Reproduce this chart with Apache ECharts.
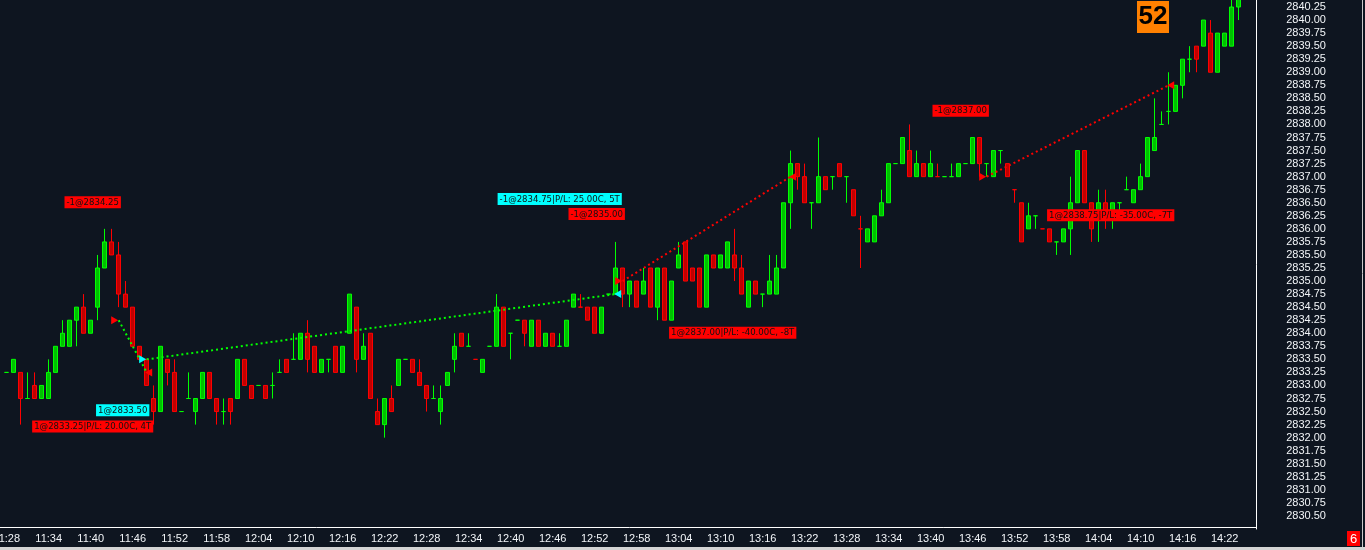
<!DOCTYPE html>
<html>
<head>
<meta charset="utf-8">
<script src="https://cdn.jsdelivr.net/npm/echarts@6/dist/echarts.min.js"></script>
<style>
  html, body { margin: 0; padding: 0; background: #0e1520; }
  #chart { width: 1365px; height: 550px; }
</style>
</head>
<body>
<div id="chart"></div>
<script>
// 1 分钟 K 线, 11:28 起
var startMinute = 11 * 60 + 28;
var slotCount = 179;
var times = [];
for (var m = 0; m < slotCount; m++) {
	var t = startMinute + m;
	times.push(Math.floor(t / 60) + ':' + String(t % 60).padStart(2, '0'));
}

// [open, close, low, high]
var candles = [
	[2833.25, 2833.25, 2833.25, 2833.25], [2833.25, 2833.50, 2833.25, 2833.50], [2833.25, 2832.75, 2832.25, 2833.25],
	[2832.75, 2832.75, 2832.75, 2833.25], [2833.00, 2832.75, 2832.75, 2833.25], [2832.75, 2833.00, 2832.75, 2833.00],
	[2832.75, 2833.25, 2832.75, 2833.50], [2833.25, 2833.75, 2833.25, 2833.75], [2833.75, 2834.00, 2833.75, 2834.25],
	[2833.75, 2834.25, 2833.75, 2834.25], [2834.25, 2834.50, 2833.75, 2834.50], [2834.50, 2834.00, 2834.00, 2834.75],
	[2834.00, 2834.25, 2834.00, 2834.25], [2834.50, 2835.25, 2834.25, 2835.50], [2835.25, 2835.75, 2835.25, 2836.00],
	[2835.75, 2835.50, 2835.50, 2836.00], [2835.50, 2834.75, 2834.50, 2835.75], [2834.75, 2834.50, 2834.50, 2835.00],
	[2834.50, 2833.75, 2833.75, 2834.50], [2833.75, 2833.50, 2833.50, 2833.75], [2833.50, 2833.00, 2833.00, 2833.50],
	[2832.75, 2832.50, 2832.25, 2833.00], [2832.50, 2833.75, 2832.50, 2833.75], [2833.50, 2833.25, 2833.00, 2833.50],
	[2833.25, 2832.50, 2832.50, 2833.50], [2832.50, 2832.50, 2832.50, 2832.50], [2832.75, 2832.75, 2832.75, 2833.25],
	[2832.50, 2832.75, 2832.25, 2832.75], [2832.75, 2833.25, 2832.75, 2833.25], [2833.25, 2832.75, 2832.75, 2833.25],
	[2832.75, 2832.50, 2832.25, 2832.75], [2832.50, 2832.50, 2832.25, 2832.75], [2832.75, 2832.50, 2832.25, 2832.75],
	[2832.75, 2833.50, 2832.75, 2833.50], [2833.50, 2833.00, 2833.00, 2833.50], [2833.00, 2832.75, 2832.75, 2833.00],
	[2833.00, 2833.00, 2833.00, 2833.00], [2833.00, 2832.75, 2832.75, 2833.00], [2833.00, 2833.00, 2832.75, 2833.25],
	[2833.25, 2833.25, 2833.25, 2833.50], [2833.50, 2833.25, 2833.25, 2833.50], [2833.50, 2833.50, 2833.50, 2834.00],
	[2833.50, 2834.00, 2833.50, 2834.00], [2834.00, 2833.50, 2833.25, 2834.25], [2833.75, 2833.25, 2833.25, 2833.75],
	[2833.25, 2833.50, 2833.25, 2833.50], [2833.50, 2833.50, 2833.25, 2833.50], [2833.75, 2833.25, 2833.25, 2833.75],
	[2833.25, 2833.75, 2833.25, 2833.75], [2834.00, 2834.75, 2834.00, 2834.75], [2834.50, 2833.50, 2833.25, 2834.50],
	[2833.50, 2833.75, 2833.50, 2834.00], [2834.00, 2832.75, 2832.75, 2834.00], [2832.50, 2832.25, 2832.25, 2832.75],
	[2832.25, 2832.75, 2832.00, 2832.75], [2832.75, 2832.50, 2832.50, 2833.00], [2833.00, 2833.50, 2833.00, 2833.50],
	[2833.50, 2833.50, 2833.50, 2833.50], [2833.50, 2833.25, 2833.25, 2833.50], [2833.25, 2833.00, 2833.00, 2833.50],
	[2833.00, 2832.75, 2832.50, 2833.00], [2832.75, 2832.75, 2832.75, 2833.00], [2832.50, 2832.75, 2832.25, 2833.00],
	[2833.00, 2833.25, 2833.00, 2833.25], [2833.50, 2833.75, 2833.25, 2834.00], [2834.00, 2833.75, 2833.75, 2834.00],
	[2833.75, 2833.75, 2833.75, 2834.00], [2833.50, 2833.50, 2833.50, 2833.50], [2833.25, 2833.50, 2833.25, 2833.50],
	[2833.75, 2833.75, 2833.75, 2833.75], [2833.75, 2834.50, 2833.75, 2834.75], [2834.50, 2833.75, 2833.75, 2834.50],
	[2834.00, 2834.00, 2833.50, 2834.00], [2834.25, 2834.25, 2834.25, 2834.25], [2834.25, 2834.00, 2833.75, 2834.25],
	[2833.75, 2834.25, 2833.75, 2834.25], [2834.25, 2833.75, 2833.75, 2834.25], [2833.75, 2834.00, 2833.75, 2834.00],
	[2834.00, 2833.75, 2833.75, 2834.00], [2833.75, 2833.75, 2833.75, 2834.00], [2833.75, 2834.25, 2833.75, 2834.25],
	[2834.50, 2834.75, 2834.50, 2834.75], [2834.50, 2834.50, 2834.50, 2834.75], [2834.50, 2834.25, 2834.25, 2834.50],
	[2834.50, 2834.00, 2834.00, 2834.50], [2834.00, 2834.50, 2834.00, 2834.50], [2834.75, 2834.75, 2834.75, 2834.75],
	[2834.75, 2835.25, 2834.75, 2835.75], [2835.25, 2834.75, 2834.50, 2835.25], [2834.75, 2835.00, 2834.50, 2835.00],
	[2835.00, 2834.50, 2834.50, 2835.00], [2834.75, 2835.00, 2834.75, 2835.25], [2835.25, 2834.50, 2834.50, 2835.25],
	[2834.50, 2835.25, 2834.25, 2835.25], [2835.25, 2834.25, 2834.25, 2835.25], [2834.25, 2835.00, 2834.25, 2835.00],
	[2835.25, 2835.50, 2835.25, 2835.75], [2835.75, 2835.00, 2835.00, 2835.75], [2835.25, 2835.00, 2835.00, 2835.25],
	[2835.25, 2834.50, 2834.50, 2835.25], [2834.50, 2835.50, 2834.50, 2835.50], [2835.50, 2835.25, 2835.25, 2835.50],
	[2835.25, 2835.50, 2835.25, 2835.50], [2835.25, 2835.75, 2835.25, 2835.75], [2835.50, 2835.25, 2835.00, 2836.00],
	[2835.25, 2834.75, 2834.75, 2835.50], [2834.50, 2835.00, 2834.50, 2835.00], [2835.00, 2834.75, 2834.75, 2835.00],
	[2834.75, 2834.75, 2834.50, 2834.75], [2834.75, 2835.00, 2834.75, 2835.50], [2834.75, 2835.25, 2834.75, 2835.50],
	[2835.25, 2836.50, 2835.25, 2836.50], [2836.50, 2837.25, 2836.00, 2837.50], [2837.25, 2837.00, 2836.75, 2837.25],
	[2837.00, 2836.50, 2836.50, 2837.25], [2836.50, 2836.50, 2836.00, 2836.50], [2836.50, 2837.00, 2836.50, 2837.75],
	[2837.00, 2836.75, 2836.75, 2837.00], [2837.00, 2837.00, 2836.75, 2837.00], [2837.25, 2837.00, 2837.00, 2837.25],
	[2837.00, 2837.00, 2836.50, 2837.00], [2836.75, 2836.25, 2836.25, 2836.75], [2836.00, 2836.00, 2835.25, 2836.25],
	[2835.75, 2836.00, 2835.75, 2836.00], [2835.75, 2836.25, 2835.75, 2836.25], [2836.25, 2836.50, 2836.25, 2836.75],
	[2836.50, 2837.25, 2836.50, 2837.25], [2837.25, 2837.25, 2837.25, 2837.25], [2837.25, 2837.75, 2837.25, 2837.75],
	[2837.50, 2837.00, 2837.00, 2838.00], [2837.00, 2837.25, 2837.00, 2837.50], [2837.25, 2837.00, 2837.00, 2837.25],
	[2837.00, 2837.25, 2837.00, 2837.50], [2837.00, 2837.00, 2837.00, 2837.25], [2837.00, 2837.00, 2837.00, 2837.00],
	[2837.00, 2837.00, 2837.00, 2837.25], [2837.00, 2837.25, 2837.00, 2837.25], [2837.25, 2837.25, 2837.25, 2837.25],
	[2837.25, 2837.75, 2837.25, 2837.75], [2837.75, 2837.25, 2837.00, 2837.75], [2837.25, 2837.25, 2837.00, 2837.25],
	[2837.00, 2837.50, 2837.00, 2837.50], [2837.50, 2837.50, 2837.25, 2837.50], [2837.25, 2837.00, 2837.00, 2837.25],
	[2836.75, 2836.75, 2836.50, 2836.75], [2836.50, 2835.75, 2835.75, 2836.50], [2836.00, 2836.25, 2836.00, 2836.50],
	[2836.25, 2836.25, 2836.00, 2836.25], [2836.00, 2836.00, 2836.00, 2836.00], [2836.00, 2835.75, 2835.75, 2836.00],
	[2835.75, 2835.75, 2835.50, 2835.75], [2835.75, 2836.00, 2835.75, 2836.00], [2836.00, 2836.50, 2835.50, 2837.00],
	[2836.50, 2837.50, 2836.50, 2837.50], [2837.50, 2836.50, 2836.50, 2837.50], [2836.50, 2836.00, 2835.75, 2836.50],
	[2836.25, 2836.50, 2835.75, 2836.75], [2836.50, 2836.25, 2836.00, 2836.75], [2836.25, 2836.50, 2836.00, 2836.50],
	[2836.50, 2836.50, 2836.25, 2836.50], [2836.75, 2836.75, 2836.75, 2837.00], [2836.50, 2836.75, 2836.50, 2836.75],
	[2836.75, 2837.00, 2836.75, 2837.25], [2837.00, 2837.75, 2837.00, 2837.75], [2837.50, 2837.75, 2837.50, 2838.50],
	[2838.00, 2838.00, 2838.00, 2838.25], [2838.25, 2838.25, 2838.00, 2839.00], [2838.25, 2838.75, 2838.25, 2838.75],
	[2838.75, 2839.25, 2838.50, 2839.25], [2839.25, 2839.25, 2839.00, 2839.50], [2839.50, 2839.25, 2839.00, 2839.50],
	[2839.50, 2840.00, 2839.50, 2840.00], [2839.75, 2839.00, 2839.00, 2840.00], [2839.00, 2839.75, 2839.00, 2839.75],
	[2839.50, 2839.75, 2839.50, 2839.75], [2839.50, 2840.25, 2839.50, 2840.50], [2840.25, 2840.50, 2840.00, 2840.50]
];

// 成交记录
var tradeSide = ['short', 'long', 'short', 'short'];
var tradeEntryIdx = [16, 20, 88, 140];
var tradeEntryPx = [2834.25, 2833.50, 2835.00, 2837.00];
var tradeExitIdx = [20, 87, 112, 166];
var tradeExitPx = [2833.25, 2834.75, 2837.00, 2838.75];
var tradePnl = [20, 25, -40, -35];
var entryText = ['-1@2834.25', '1@2833.50', '-1@2835.00', '-1@2837.00'];
var exitText = ['1@2833.25|P/L: 20.00C, 4T', '-1@2834.75|P/L: 25.00C, 5T',
	'1@2837.00|P/L: -40.00C, -8T', '1@2838.75|P/L: -35.00C, -7T'];

var priceMin = 2830.25;
var priceMax = 2840.50;
var priceStep = 0.25;

// 标签相对成交点的像素偏移
var entryShift = [[-26, -118], [-24, 51], [-26, -67], [-26, -66]];
var exitShift = [[-54, 54], [-56, -95], [-58, 156], [-58, 130]];

var RED = '#ff0000';
var CYAN = '#00ffff';
var GREEN = '#00ff00';

var markPoints = [];
var markLines = [];
for (var k = 0; k < tradeSide.length; k++) {
	var bg = tradeSide[k] === 'long' ? CYAN : RED;
	var lineCol = tradePnl[k] > 0 ? GREEN : RED;
	// 箭头
	markPoints.push({
		coord: [times[tradeEntryIdx[k]], tradeEntryPx[k]],
		symbol: 'triangle', symbolSize: [8, 7], symbolRotate: -90, symbolOffset: [-4, 0],
		itemStyle: { color: bg }, label: { show: false }
	});
	markPoints.push({
		coord: [times[tradeExitIdx[k]], tradeExitPx[k]],
		symbol: 'triangle', symbolSize: [8, 7], symbolRotate: 90, symbolOffset: [2, 0],
		itemStyle: { color: bg }, label: { show: false }
	});
	// 文字
	markPoints.push({
		coord: [times[tradeEntryIdx[k]], tradeEntryPx[k]],
		symbol: 'rect', symbolSize: 1, itemStyle: { color: 'rgba(0,0,0,0)' },
		label: { show: true, formatter: entryText[k], position: 'inside', offset: entryShift[k], backgroundColor: bg }
	});
	markPoints.push({
		coord: [times[tradeExitIdx[k]], tradeExitPx[k]],
		symbol: 'rect', symbolSize: 1, itemStyle: { color: 'rgba(0,0,0,0)' },
		label: { show: true, formatter: exitText[k], position: 'inside', offset: exitShift[k], backgroundColor: bg }
	});
	// 虚线连接
	markLines.push([
		{ coord: [times[tradeEntryIdx[k]], tradeEntryPx[k]], lineStyle: { color: lineCol } },
		{ coord: [times[tradeExitIdx[k]], tradeExitPx[k]] }
	]);
}

var myChart = echarts.init(document.getElementById('chart'), null, { renderer: 'canvas' });

var option = {
	backgroundColor: '#0e1520',
	animation: false,
	grid: {
		left: 3.2,
		right: 108.8,
		top: -6.05,
		bottom: 21,
		containLabel: false,
		outerBoundsMode: 'none'
	},
	xAxis: {
		type: 'category',
		data: times,
		boundaryGap: true,
		offset: -2,
		axisLine: { lineStyle: { color: '#ffffff', width: 1 } },
		axisTick: {
			alignWithLabel: true,
			interval: 5,
			length: 3,
			lineStyle: { color: '#ffffff' }
		},
		axisLabel: {
			interval: 5,
			color: '#f2f5f8',
			fontSize: 11,
			fontFamily: 'Liberation Sans',
			margin: 6,
			hideOverlap: false
		},
		splitLine: { show: false }
	},
	yAxis: {
		type: 'value',
		position: 'right',
		min: priceMin,
		max: priceMax,
		interval: priceStep,
		axisLine: { show: true, lineStyle: { color: '#ffffff', width: 1 } },
		axisTick: { show: false },
		splitLine: { show: false },
		axisLabel: {
			showMinLabel: false,
			showMaxLabel: false,
			color: '#f2f5f8',
			fontSize: 11,
			fontFamily: 'Liberation Sans',
			margin: 30,
			formatter: function (v) { return v.toFixed(2); }
		}
	},
	series: [
		{
			type: 'candlestick',
			data: candles,
			barWidth: 4,
			itemStyle: {
				color: '#00c000',
				color0: '#c00000',
				borderColor: '#00ff00',
				borderColor0: '#ff0000',
				borderWidth: 1
			},
			markLine: {
				silent: true,
				symbol: ['none', 'none'],
				label: { show: false },
				lineStyle: { type: [2, 3], width: 2 },
				data: markLines
			},
			markPoint: {
				silent: true,
				label: {
					color: '#111111',
					fontSize: 9.5,
					fontFamily: "'Liberation Sans Narrow', 'DejaVu Sans Condensed', sans-serif",
					lineHeight: 11,
					padding: [1, 2, 0, 2]
				},
				data: markPoints
			}
		}
	],
	graphic: [
		{
			type: 'rect', left: 0, top: 547, shape: { width: 1365, height: 3 },
			style: { fill: '#d4d4d4' }, silent: true
		},
		{
			type: 'line', shape: { x1: 1362.5, y1: 0, x2: 1362.5, y2: 547 },
			style: { stroke: '#c8c8c8', lineWidth: 1 }, silent: true
		},
		{
			// 横轴线延伸到左边缘
			type: 'line', shape: { x1: 0, y1: 527.5, x2: 4, y2: 527.5 },
			style: { stroke: '#ffffff', lineWidth: 1 }, silent: true
		},
		{
			type: 'group', left: 1137, top: 1,
			children: [
				{ type: 'rect', shape: { width: 32, height: 32 }, style: { fill: '#ff8000' } },
				{ type: 'text', x: 16, y: 16, style: { text: '52', fill: '#000000', font: 'bold 26px "Liberation Sans"', textAlign: 'center', textVerticalAlign: 'middle' } }
			]
		},
		{
			type: 'group', left: 1347, top: 531,
			children: [
				{ type: 'rect', shape: { width: 13, height: 15 }, style: { fill: '#ff0000' } },
				{ type: 'text', x: 6.5, y: 8, style: { text: '6', fill: '#ffffff', font: '13px "Liberation Sans"', textAlign: 'center', textVerticalAlign: 'middle' } }
			]
		}
	]
};

myChart.setOption(option);
</script>
</body>
</html>
